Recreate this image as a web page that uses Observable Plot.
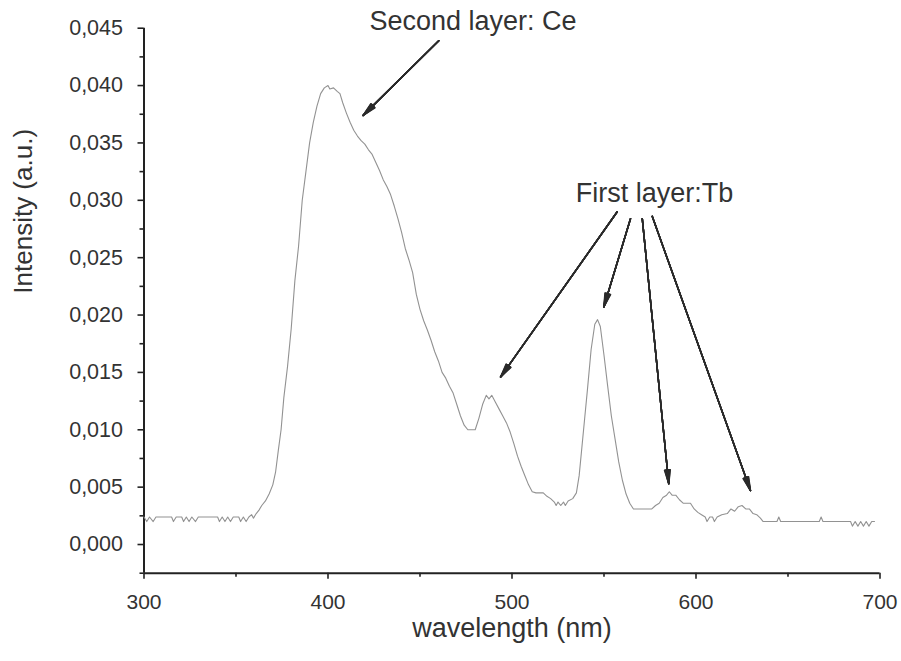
<!DOCTYPE html>
<html>
<head>
<meta charset="utf-8">
<script src="https://cdn.jsdelivr.net/npm/d3@7"></script>
<script src="https://cdn.jsdelivr.net/npm/@observablehq/plot@0.6"></script>
<style>
  body { margin: 0; background: #fff; }
</style>
</head>
<body>
<div id="chart"></div>
<script>
// Spectrum
const wavelength = [300,301.5,303,305,306.5,315,316,317.5,320.5,321.5,323,324.5,326,328,329.5,340,341,342.5,344,345.5,347,348.5,351.5,352.5,354,355.5,357,358.5,359.5,361,362.5,364,366,368,370,371.5,373,374.5,376,378,380,382,384,386,388,390,392,394,396,398,400,401,403,405,406.5,408,410,412,414,416,418,420,422,424,426,428,430,432,434,436,438,440,442,444,446,448,450,452,454,456,458,460,462,464,466,468,470,472,474,476,480,482,484,486,487.5,489,491,493,495,497,499,501,503,505,507,509,511,513,517,519,521,523,524,525,526.5,528,529,530.5,533,535,536.5,538,539.5,541,543,545,546.5,548,550,552,554,556,558,560,562,564,566,576,578,580,582,584,585.5,587,589,591,593,597,599,601,603,605,606,607.5,609,610,611.5,614,617,619,621,623,625,627,629,631,633,635,636.5,644,645,646,667,668,669,684,685,686.5,688,689.5,691,692.5,694,695.5,697];
const intensity = [0.0024,0.0020,0.0024,0.0020,0.0024,0.0024,0.0020,0.0024,0.0024,0.0020,0.0024,0.0020,0.0024,0.0020,0.0024,0.0024,0.0020,0.0024,0.0020,0.0024,0.0020,0.0024,0.0024,0.0020,0.0024,0.0020,0.0024,0.0026,0.0023,0.0027,0.0030,0.0034,0.0038,0.0044,0.0052,0.0063,0.0082,0.0100,0.0128,0.0155,0.0188,0.0230,0.0260,0.0300,0.0325,0.0350,0.0368,0.0382,0.0393,0.0398,0.0400,0.0397,0.0398,0.0395,0.0393,0.0385,0.0376,0.0368,0.0361,0.0356,0.0352,0.0349,0.0344,0.0340,0.0333,0.0326,0.0318,0.0312,0.0305,0.0295,0.0284,0.0272,0.0258,0.0248,0.0237,0.0218,0.0205,0.0195,0.0187,0.0178,0.0168,0.0160,0.0150,0.0145,0.0138,0.0132,0.0122,0.0112,0.0104,0.0100,0.0100,0.0110,0.0122,0.0130,0.0127,0.0130,0.0124,0.0118,0.0112,0.0106,0.0098,0.0088,0.0077,0.0068,0.0060,0.0052,0.0046,0.0045,0.0045,0.0042,0.0040,0.0037,0.0034,0.0037,0.0034,0.0037,0.0034,0.0038,0.0040,0.0045,0.0060,0.0085,0.0110,0.0135,0.0170,0.0192,0.0196,0.0190,0.0165,0.0138,0.0112,0.0092,0.0072,0.0056,0.0044,0.0036,0.0031,0.0031,0.0034,0.0036,0.0041,0.0043,0.0046,0.0043,0.0043,0.0039,0.0036,0.0036,0.0031,0.0028,0.0026,0.0024,0.0020,0.0024,0.0024,0.0020,0.0024,0.0026,0.0027,0.0031,0.0029,0.0033,0.0034,0.0031,0.0031,0.0027,0.0026,0.0023,0.0020,0.0020,0.0024,0.0020,0.0020,0.0024,0.0020,0.0020,0.0016,0.0020,0.0016,0.0020,0.0016,0.0020,0.0016,0.0020,0.0020];

// Axis ticks
const xMajorTicks = [300, 400, 500, 600, 700];
const xMinorTicks = [350, 450, 550, 650];
const yMajorTicks = [0, 0.005, 0.010, 0.015, 0.020, 0.025, 0.030, 0.035, 0.040, 0.045];
const yMinorTicks = [0.0025, 0.0075, 0.0125, 0.0175, 0.0225, 0.0275, 0.0325, 0.0375, 0.0425, -0.0025];

// Annotations (data coordinates)
const labelTexts = ["Second layer: Ce", "First layer:Tb"];
const labelX = [478.8, 577.4];
const labelY = [0.0456, 0.0306];

const arrowX1 = [460.2, 557.2, 564.4, 570.8, 576.2];
const arrowY1 = [0.0439, 0.0290, 0.0284, 0.0284, 0.0286];
const arrowX2 = [419.1, 493.8, 549.9, 585.2, 629.6];
const arrowY2 = [0.0374, 0.0146, 0.0207, 0.0053, 0.0047];

const spectrum = wavelength.map((w, i) => ({w, v: intensity[i]}));
const labels = labelTexts.map((t, i) => ({t, x: labelX[i], y: labelY[i]}));
const arrows = arrowX1.map((x1, i) => ({x1, y1: arrowY1[i], x2: arrowX2[i], y2: arrowY2[i]}));

const font = "'Liberation Sans', Arial, Helvetica, sans-serif";
const fmt = d => d.toFixed(3).replace(".", ",");

// filled-looking arrow heads: several heads with growing angles
const headAngles = [4, 8, 12, 16, 20, 24];
const arrowMarks = headAngles.map(a =>
  Plot.arrow(arrows, {x1: "x1", y1: "y1", x2: "x2", y2: "y2", stroke: "#2a2a2a", strokeWidth: 1.5, headLength: 14, headAngle: a})
);

const chart = Plot.plot({
  width: 901,
  height: 661,
  marginLeft: 143.5,
  marginRight: 21.5,
  marginTop: 27.7,
  marginBottom: 88.3,
  style: {fontFamily: font, background: "#fff", color: "#333"},
  x: {domain: [300, 700]},
  y: {domain: [-0.0025, 0.045]},
  marks: [
    Plot.axisX(xMajorTicks, {tickSize: 6, tickPadding: 15, fontSize: 21, label: null, tickFormat: d => String(d), stroke: "#222", strokeWidth: 1.6, color: "#333"}),
    Plot.axisX(xMinorTicks, {tickSize: 4, tickFormat: () => "", label: null, stroke: "#222", strokeWidth: 1.6}),
    Plot.axisY(yMajorTicks, {tickSize: 6, tickPadding: 15, fontSize: 21.5, label: null, tickFormat: fmt, stroke: "#222", strokeWidth: 1.6, color: "#333"}),
    Plot.axisY(yMinorTicks, {tickSize: 4, tickFormat: () => "", label: null, stroke: "#222", strokeWidth: 1.6}),
    Plot.ruleX([300], {stroke: "#222", strokeWidth: 2}),
    Plot.ruleY([-0.0025], {stroke: "#222", strokeWidth: 2}),
    Plot.line(spectrum, {x: "w", y: "v", stroke: "#929292", strokeWidth: 1.1}),
    ...arrowMarks,
    Plot.text(labels, {x: "x", y: "y", text: "t", fontSize: 27, fill: "#333", textAnchor: "middle"}),
    Plot.text(["wavelength (nm)"], {frameAnchor: "bottom", dy: 64, fontSize: 27, fill: "#333"}),
    Plot.text(["Intensity (a.u.)"], {frameAnchor: "left", dx: -120, dy: -7, rotate: -90, fontSize: 26, fill: "#333"})
  ]
});
document.getElementById("chart").appendChild(chart);
</script>
</body>
</html>
